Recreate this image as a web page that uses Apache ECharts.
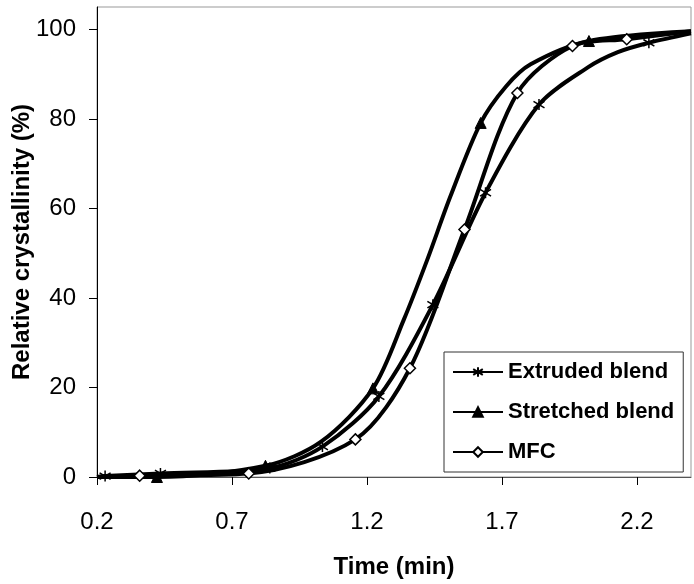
<!DOCTYPE html>
<html>
<head>
<meta charset="utf-8">
<script src="https://cdn.jsdelivr.net/npm/echarts@6/dist/echarts.min.js"></script>
<style>
html,body{margin:0;padding:0;background:#fff;}
#chart{width:694px;height:584px;}
</style>
</head>
<body>
<div id="chart"></div>
<script>
// Tick labels
const xTicks = [0.2, 0.7, 1.2, 1.7, 2.2];
const yTicks = [0, 20, 40, 60, 80, 100];

// Extruded blend: measured (marked) points and extra curve points
const extMarkX = [0.23, 0.435, 0.84, 1.035, 1.244, 1.444, 1.639, 1.837, 2.244];
const extMarkY = [0.2, 0.8, 2.0, 6.8, 18.0, 38.5, 63.5, 83.2, 97.0];
const extLineX = [0.2, 2.018, 2.129, 2.4];
const extLineY = [0.0, 91.5, 94.9, 99.1];

// Stretched blend
const strMarkX = [0.422, 0.824, 1.222, 1.621, 2.022];
const strMarkY = [0.0, 2.5, 19.8, 79.1, 97.4];
const strLineX = [0.2, 1.03, 1.336, 1.423, 1.509, 1.714, 1.806, 2.4];
const strLineY = [0.0, 7.9, 35.1, 48.5, 62.7, 87.2, 92.2, 99.6];

// MFC
const mfcMarkX = [0.358, 0.762, 1.157, 1.359, 1.561, 1.757, 1.961, 2.162];
const mfcMarkY = [0.3, 0.8, 8.4, 24.3, 55.3, 85.8, 96.3, 97.8];
const mfcLineX = [0.2, 2.4];
const mfcLineY = [0.0, 99.6];

const seriesNames = ['Extruded blend', 'Stretched blend', 'MFC'];

function build(mx, my, lx, ly, sym) {
  const pts = [];
  mx.forEach((x, i) => pts.push({ value: [x, my[i]], symbol: sym }));
  lx.forEach((x, i) => pts.push({ value: [x, ly[i]], symbol: 'none' }));
  pts.sort((a, b) => a.value[0] - b.value[0]);
  return pts;
}

const asterisk = 'path://M5,0 L5,10 M1,2 L9,8 M9,2 L1,8';
const FONT = "'Liberation Sans', Arial, sans-serif";

const chart = echarts.init(document.getElementById('chart'), null, { renderer: 'canvas' });

const lineStyle = { color: '#000', width: 4 };

chart.setOption({
  animation: false,
  backgroundColor: '#fff',
  grid: {
    left: 97, right: 3, top: 7, bottom: 107,
    containLabel: false, outerBoundsMode: 'none',
    show: true, borderColor: '#999', borderWidth: 1, backgroundColor: 'transparent'
  },
  legend: {
    orient: 'vertical',
    left: 444, top: 352,
    padding: [9, 9, 9, 8],
    itemGap: 18,
    itemWidth: 50, itemHeight: 12,
    backgroundColor: '#fff',
    borderColor: '#333', borderWidth: 1,
    textStyle: { fontFamily: FONT, fontSize: 22, fontWeight: 'bold', color: '#000' },
    data: seriesNames
  },
  xAxis: {
    type: 'value', min: 0.2, max: 2.4,
    name: 'Time (min)', nameLocation: 'middle', nameGap: 78, nameMoveOverlap: false,
    nameTextStyle: { fontFamily: FONT, fontSize: 24, fontWeight: 'bold', color: '#000' },
    axisLine: { show: true, lineStyle: { color: '#555', width: 1 } },
    axisTick: { show: true, inside: false, length: 8, lineStyle: { color: '#000' }, customValues: xTicks },
    axisLabel: { fontFamily: FONT, fontSize: 24, color: '#000', margin: 33, customValues: xTicks,
      formatter: v => v.toFixed(1) },
    splitLine: { show: false }
  },
  yAxis: {
    type: 'value', min: 0, max: 105,
    name: 'Relative crystallinity (%)', nameLocation: 'middle', nameGap: 63, nameMoveOverlap: false,
    nameTextStyle: { fontFamily: FONT, fontSize: 24, fontWeight: 'bold', color: '#000' },
    axisLine: { show: true, lineStyle: { color: '#000', width: 1 } },
    axisTick: { show: true, inside: false, length: 8, lineStyle: { color: '#000' }, customValues: yTicks },
    axisLabel: { fontFamily: FONT, fontSize: 24, color: '#000', margin: 21, customValues: yTicks },
    splitLine: { show: false }
  },
  series: [
    {
      name: seriesNames[0], type: 'line', smooth: 0.3, showAllSymbol: true,
      symbol: asterisk, symbolSize: 11,
      lineStyle: lineStyle,
      itemStyle: { color: '#000', borderColor: '#000', borderWidth: 1.5 },
      data: build(extMarkX, extMarkY, extLineX, extLineY, asterisk), z: 3
    },
    {
      name: seriesNames[1], type: 'line', smooth: 0.3, showAllSymbol: true,
      symbol: 'triangle', symbolSize: 11,
      lineStyle: lineStyle,
      itemStyle: { color: '#000', borderColor: '#000', borderWidth: 1 },
      data: build(strMarkX, strMarkY, strLineX, strLineY, 'triangle'), z: 4
    },
    {
      name: seriesNames[2], type: 'line', smooth: 0.3, showAllSymbol: true,
      symbol: 'diamond', symbolSize: 11,
      lineStyle: lineStyle,
      itemStyle: { color: '#fff', borderColor: '#000', borderWidth: 1.5 },
      data: build(mfcMarkX, mfcMarkY, mfcLineX, mfcLineY, 'diamond'), z: 5
    }
  ]
});
</script>
</body>
</html>
